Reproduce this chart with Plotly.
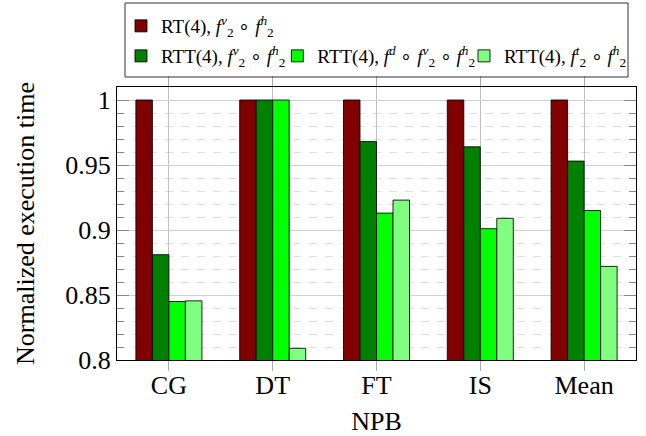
import plotly.graph_objects as go

categories = ["CG", "DT", "FT", "IS", "Mean"]
rt_fvfh = [1.0, 1.0, 1.0, 1.0, 1.0]
rtt_fvfh = [0.881, 1.0, 0.968, 0.964, 0.953]
rtt_fdfvfh = [0.845, 1.0, 0.913, 0.901, 0.915]
rtt_ftfh = [0.8455, 0.809, 0.923, 0.909, 0.872]

series_names = [
    "RT(4), <i>f</i><sup><i>v</i></sup><sub>2</sub> ∘ <i>f</i><sup><i>h</i></sup><sub>2</sub>",
    "RTT(4), <i>f</i><sup><i>v</i></sup><sub>2</sub> ∘ <i>f</i><sup><i>h</i></sup><sub>2</sub>",
    "RTT(4), <i>f</i><sup><i>d</i></sup> ∘ <i>f</i><sup><i>v</i></sup><sub>2</sub> ∘ <i>f</i><sup><i>h</i></sup><sub>2</sub>",
    "RTT(4), <i>f</i><sup><i>t</i></sup><sub>2</sub> ∘ <i>f</i><sup><i>h</i></sup><sub>2</sub>",
]
series_values = [rt_fvfh, rtt_fvfh, rtt_fdfvfh, rtt_ftfh]
colors = ["#800000", "#008000", "#00ff00", "#80ff80"]
legend_ids = ["legend", "legend2", "legend3", "legend4"]
# legend anchor positions (paper coords)
legend_x = [0.0077, 0.0077, 0.309, 0.6686]
legend_y = [1.2235, 1.1135, 1.1135, 1.1135]

FONT = "Liberation Serif"

fig = go.Figure()
for name, vals, col, lg in zip(series_names, series_values, colors, legend_ids):
    fig.add_trace(go.Bar(
        x=categories, y=vals, name=name,
        marker=dict(color=col, line=dict(color="rgba(0,0,0,0.85)", width=1)),
        legend=lg,
    ))

legend_layouts = {}
for lg, lx, ly in zip(legend_ids, legend_x, legend_y):
    legend_layouts[lg] = dict(
        orientation="h", x=lx, xanchor="left", y=ly, yanchor="middle",
        font=dict(family=FONT, size=19, color="black"),
        bgcolor="rgba(0,0,0,0)", itemwidth=30,
    )

fig.update_layout(
    width=646, height=436,
    margin=dict(l=117, r=10, t=87, b=76, autoexpand=False),
    paper_bgcolor="white", plot_bgcolor="white",
    font=dict(family=FONT, size=26, color="black"),
    barmode="group", bargap=0.364, bargroupgap=0,
    showlegend=True,
    shapes=[dict(
        type="rect", xref="paper", yref="paper",
        x0=0.0154, x1=0.9846, y0=1.0366, y1=1.3077,
        line=dict(color="#333333", width=1),
    )],
    **legend_layouts,
)

fig.update_xaxes(
    title=dict(text="NPB", standoff=13, font=dict(size=26)),
    showline=True, linecolor="black", linewidth=1.3, mirror="ticks",
    ticks="outside", ticklen=10, tickcolor="#aaaaaa", tickwidth=1,
    ticklabelstandoff=-8,
    showgrid=True, gridcolor="#c0c0c0", gridwidth=1,
    tickfont=dict(family=FONT, size=26),
)
fig.update_yaxes(
    title=dict(text="Normalized execution time", standoff=23, font=dict(size=26)),
    range=[0.8, 1.01],
    tickvals=[0.8, 0.85, 0.9, 0.95, 1.0],
    ticktext=["0.8", "0.85", "0.9", "0.95", "1"],
    showline=True, linecolor="black", linewidth=1.3, mirror="ticks",
    ticks="inside", ticklen=12, tickcolor="#888888", tickwidth=1,
    showgrid=True, gridcolor="#d0d0d0", gridwidth=1,
    zeroline=False,
    tickfont=dict(family=FONT, size=26),
    minor=dict(dtick=0.01, ticks="inside", ticklen=7, tickcolor="#888888",
               showgrid=True, gridcolor="#dcdcf8", griddash="8px,8px", gridwidth=1),
)

fig.write_html("out.html")
